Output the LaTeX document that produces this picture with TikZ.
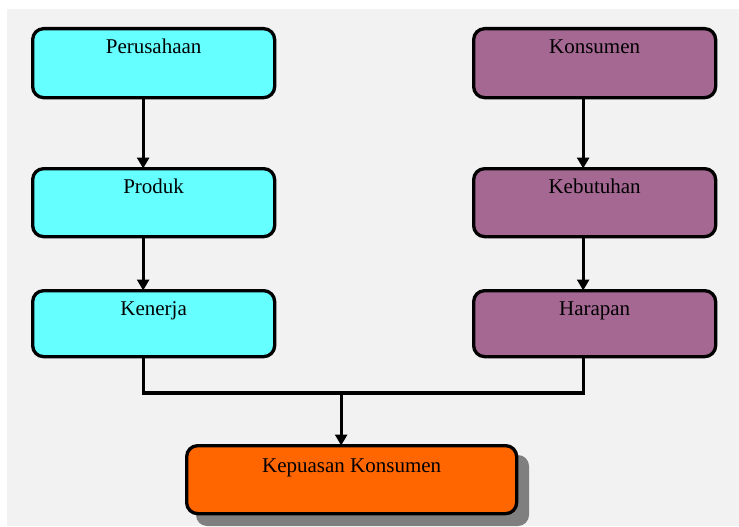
\documentclass[tikz,border=0pt]{standalone}
\usepackage{fontspec}
\setmainfont{Liberation Serif}
\usetikzlibrary{arrows.meta,positioning}
\definecolor{bgpanel}{HTML}{F2F2F2}
\definecolor{cyanfill}{HTML}{66FFFF}
\definecolor{plumfill}{HTML}{A56893}
\definecolor{orangefill}{HTML}{FF6600}
\definecolor{shadowgray}{HTML}{7F7F7F}
\tikzset{
  flowbox/.style={draw=black, line width=3.3pt, rounded corners=11pt,
    minimum width=242pt, inner xsep=0pt, inner ysep=0pt,
    text height=25pt, text depth=44pt, align=center,
    font=\fontsize{21pt}{25pt}\selectfont},
  leftbox/.style={flowbox, fill=cyanfill},
  rightbox/.style={flowbox, fill=plumfill},
  link/.style={line width=3.3pt, draw=black},
  arrowlink/.style={link, -{Triangle[width=12pt,length=11pt]}, shorten >=-1.5pt},
}
\begin{document}
\begin{tikzpicture}[x=1pt,y=-1pt]
  % page frame and grey panel
  \useasboundingbox (0,0) rectangle (739,527);
  \fill[white] (0,0) rectangle (739,527);
  \fill[bgpanel] (7,9) rectangle (739,526);

  % left column
  \node[leftbox, anchor=north west] (perusahaan) at (31,27) {Perusahaan};
  \node[leftbox, anchor=north west, text depth=43pt] (produk) at (31,167) {Produk};
  \node[leftbox, anchor=north west, text depth=41pt] (kenerja) at (31,289) {Kenerja};

  % right column
  \node[rightbox, anchor=north west] (konsumen) at (472,27) {Konsumen};
  \node[rightbox, anchor=north west, text depth=43pt] (kebutuhan) at (472,167) {Kebutuhan};
  \node[rightbox, anchor=north west, text depth=41pt] (harapan) at (472,289) {Harapan};

  % result box with its shadow
  \fill[shadowgray, rounded corners=11pt] (196,455) rectangle (529,526);
  \node[flowbox, fill=orangefill, anchor=north west, minimum width=330pt,
        text height=27pt, text depth=41pt] (kepuasan) at (185,444) {Kepuasan Konsumen};

  % connectors
  \draw[arrowlink] ([xshift=-10.5pt]perusahaan.south) -- ([xshift=-10.5pt]produk.north);
  \draw[arrowlink] ([xshift=-10.5pt]produk.south) -- ([xshift=-10.5pt]kenerja.north);
  \draw[arrowlink] ([xshift=-11.5pt]konsumen.south) -- ([xshift=-11.5pt]kebutuhan.north);
  \draw[arrowlink] ([xshift=-11.5pt]kebutuhan.south) -- ([xshift=-11.5pt]harapan.north);

  \coordinate (join) at ([xshift=-10.5pt]kepuasan.north |- 0,393);
  \draw[link, line join=miter] ([xshift=-10.5pt]kenerja.south) |- (join)
        -| ([xshift=-11.5pt]harapan.south);
  \draw[arrowlink] (join) -- ([xshift=-10.5pt]kepuasan.north);
\end{tikzpicture}
\end{document}
